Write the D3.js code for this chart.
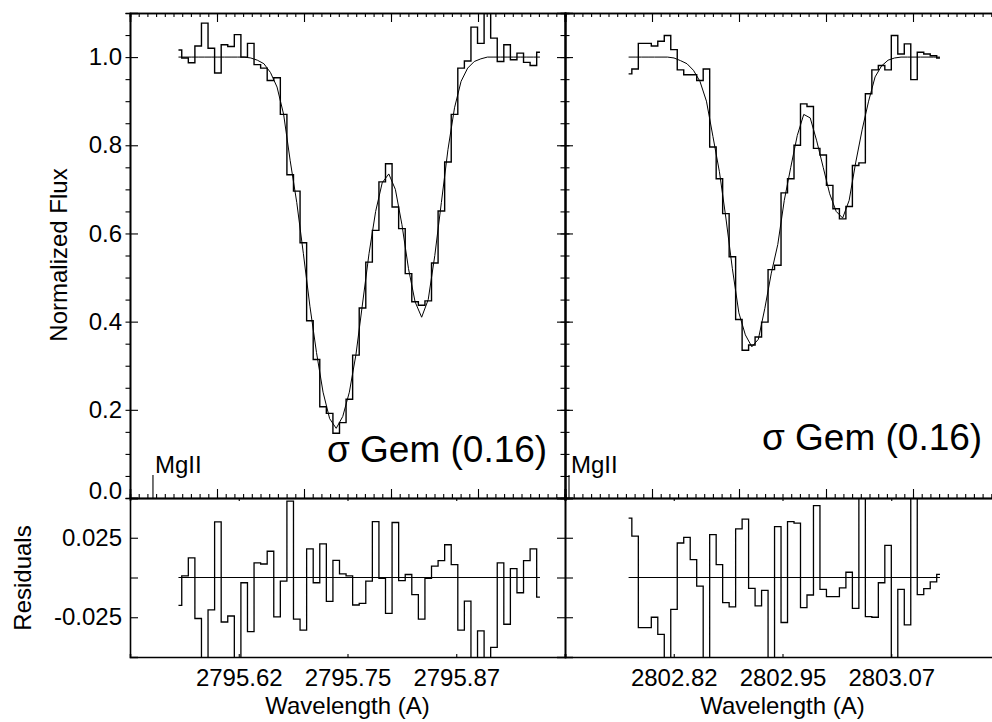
<!DOCTYPE html>
<html>
<head>
<meta charset="utf-8">
<script src="https://cdn.jsdelivr.net/npm/d3@7"></script>
<style>
  body { margin: 0; background: #fff; }
  text { font-family: "Liberation Sans", Arial, Helvetica, sans-serif; fill: #000; }
</style>
</head>
<body>
<svg id="chart" width="992" height="722"></svg>
<script>
// Mg II 2796 line: wavelength grid (bin centre of first pixel, pixel width)
const leftStart = 2795.5557;
const leftStep = 0.007555;
const leftFlux = [1.016, 0.998, 0.987, 1.025, 1.077, 1.02, 0.964, 1.028, 1.024, 1.051,
  1.0, 1.031, 0.983, 0.975, 0.947, 0.953, 0.87, 0.733, 0.696, 0.579,
  0.402, 0.314, 0.207, 0.192, 0.147, 0.171, 0.224, 0.324, 0.431, 0.535,
  0.607, 0.717, 0.758, 0.66, 0.611, 0.509, 0.445, 0.437, 0.447, 0.533,
  0.651, 0.762, 0.87, 0.975, 0.991, 1.068, 1.031, 1.13, 1.043, 0.99,
  1.028, 0.994, 1.009, 0.988, 0.981, 1.011];
const leftModel = [1.0, 1.0, 1.0, 1.0, 1.0, 1.0, 1.0, 1.0, 1.0, 1.0,
  1.0, 0.998, 0.993, 0.985, 0.965, 0.932, 0.87, 0.765, 0.67, 0.555,
  0.435, 0.33, 0.24, 0.18, 0.158, 0.185, 0.24, 0.325, 0.44, 0.555,
  0.65, 0.715, 0.735, 0.70, 0.62, 0.52, 0.445, 0.41, 0.45, 0.55,
  0.67, 0.79, 0.885, 0.945, 0.975, 0.99, 0.996, 1.0, 1.0, 1.0,
  1.0, 1.0, 1.0, 1.0, 1.0, 1.0];
const leftResid = [-0.0175, 0.001, 0.0123, -0.0258, -0.06, -0.0204, 0.035, -0.028, -0.0242, -0.06,
  -0.0033, -0.034, 0.0092, 0.0085, 0.0165, -0.0248, -0.0023, 0.048, -0.0262, -0.0331,
  0.018, -0.0033, 0.0211, -0.015, 0.0108, 0.0023, 0.001, -0.0173, -0.0163, -0.0023,
  0.0352, -0.0006, -0.0225, 0.0346, -0.002, 0.0019, -0.0108, -0.0262, -0.0006, 0.0071,
  0.0106, 0.0206, 0.0081, -0.0331, -0.0148, -0.06, -0.0336, -0.06, -0.044, 0.0092,
  -0.0294, 0.0056, -0.0096, 0.0106, 0.018, -0.0123];

// Mg II 2803 line
const rightStart = 2802.7731;
const rightStep = 0.007456;
const rightFlux = [0.962, 0.973, 1.031, 1.031, 1.025, 1.036, 1.049, 1.017, 0.971, 0.96,
  0.96, 0.947, 0.973, 0.796, 0.724, 0.645, 0.547, 0.405, 0.335, 0.347,
  0.365, 0.399, 0.518, 0.528, 0.692, 0.724, 0.8, 0.894, 0.888, 0.793,
  0.778, 0.709, 0.656, 0.633, 0.661, 0.754, 0.76, 0.917, 0.971, 0.981,
  0.971, 1.049, 1.007, 1.03, 0.949, 1.011, 1.007, 1.003, 0.998];
const rightModel = [1.0, 1.0, 1.0, 1.0, 1.0, 1.0, 1.0, 0.998, 0.992, 0.985,
  0.97, 0.945, 0.9, 0.82, 0.74, 0.635, 0.52, 0.42, 0.37, 0.343,
  0.36, 0.43, 0.51, 0.575, 0.675, 0.75, 0.822, 0.87, 0.862, 0.81,
  0.75, 0.69, 0.65, 0.635, 0.675, 0.76, 0.835, 0.9, 0.955, 0.98,
  0.993, 0.998, 1.0, 1.0, 1.0, 1.0, 1.0, 1.0, 1.0];
const rightResid = [0.0373, 0.026, -0.0315, -0.0315, -0.025, -0.0358, -0.055, -0.02, 0.0217, 0.0252,
  0.0113, -0.0054, -0.06, 0.027, 0.0081, -0.0158, -0.0185, 0.0306, 0.0367, -0.0069,
  -0.0179, -0.0081, -0.06, 0.032, -0.0283, 0.0352, 0.0342, -0.019, -0.011, 0.0452,
  -0.0075, -0.012, -0.012, -0.0065, 0.0033, -0.0194, 0.06, -0.0246, -0.025, -0.0033,
  0.0202, -0.06, -0.0075, -0.0298, 0.06, -0.0108, -0.007, -0.0027, 0.002];

// Ion marker and annotation
const ionLabel = "MgII";
const ionMarks = [2795.5264, 2802.7046];
const starLabel = "\u03c3 Gem (0.16)";
const starPos = [[2795.7264, 0.081], [2802.9264, 0.108]];

// Axis ranges and tick labels
const leftRange = [2795.5, 2796.0];
const rightRange = [2802.7, 2803.2];
const fluxTicks = [0, 0.2, 0.4, 0.6, 0.8, 1.0];
const fluxTickLabels = ["0.0", "0.2", "0.4", "0.6", "0.8", "1.0"];
const residTicks = [-0.025, 0, 0.025];
const residTickLabels = ["-0.025", "", "0.025"];
const leftWaveTicks = [2795.625, 2795.75, 2795.875];
const leftWaveLabels = ["2795.62", "2795.75", "2795.87"];
const rightWaveTicks = [2802.825, 2802.95, 2803.075];
const rightWaveLabels = ["2802.82", "2802.95", "2803.07"];

const svg = d3.select("#chart");
const FONT = 24;

const yTop = 13, yMid = 498, yBottom = 657;
const xL = d3.scaleLinear().domain(leftRange).range([130, 565]);
const xR = d3.scaleLinear().domain(rightRange).range([565, 1000]);
const yF = d3.scaleLinear().domain([0, 1.1]).range([yMid, yTop]);
const yRes = d3.scaleLinear().domain([-0.05, 0.05]).range([yBottom, yMid]);

const toSeries = (start, step, vals) => vals.map((v, i) => ({ w: start + i * step, v }));

function styleAxis(g, width) {
  g.select(".domain").attr("stroke", "#000").attr("stroke-width", width || 1.6);
  g.selectAll(".tick line").attr("stroke", "#000").attr("stroke-width", 1.1);
  g.selectAll(".tick text").attr("font-size", FONT)
    .attr("font-family", '"Liberation Sans", Arial, Helvetica, sans-serif').attr("fill", "#000");
  g.attr("font-family", null).attr("font-size", null);
}

function gridValues(a, b, s) {
  const out = [];
  const n = Math.round((b - a) / s);
  for (let i = 0; i <= n; i++) out.push(+(a + i * s).toFixed(4));
  return out;
}

function drawPanel(opts) {
  const { x, start, step, flux, model, resid, id, leftSide, mark, star } = opts;
  const [x0, x1] = x.range();

  const defs = svg.append("defs");
  defs.append("clipPath").attr("id", "clipF" + id)
    .append("rect").attr("x", x0).attr("y", yTop).attr("width", x1 - x0).attr("height", yMid - yTop);
  defs.append("clipPath").attr("id", "clipR" + id)
    .append("rect").attr("x", x0).attr("y", yMid).attr("width", x1 - x0).attr("height", yBottom - yMid);

  // ---- flux panel ----
  const majW = gridValues(x.domain()[0], x.domain()[1], 0.1);
  const minW = gridValues(x.domain()[0], x.domain()[1], 0.01);

  const gTopMin = svg.append("g").attr("transform", `translate(0,${yTop})`)
    .call(d3.axisTop(x).tickValues(minW).tickSize(-4).tickFormat(""));
  styleAxis(gTopMin);
  const gTopMaj = svg.append("g").attr("transform", `translate(0,${yTop})`)
    .call(d3.axisTop(x).tickValues(majW).tickSize(-9).tickFormat(""));
  styleAxis(gTopMaj);
  const gBotMin = svg.append("g").attr("transform", `translate(0,${yMid})`)
    .call(d3.axisBottom(x).tickValues(minW).tickSize(-4).tickFormat(""));
  styleAxis(gBotMin);
  const gBotMaj = svg.append("g").attr("transform", `translate(0,${yMid})`)
    .call(d3.axisBottom(x).tickValues(majW).tickSize(-9).tickFormat(""));
  styleAxis(gBotMaj);

  const fluxMinor = gridValues(0, 1.1, 0.05);
  [[d3.axisRight, x0], [d3.axisLeft, x1]].forEach(([mk, px]) => {
    const gm = svg.append("g").attr("transform", `translate(${px},0)`)
      .call(mk(yF).tickValues(fluxMinor).tickSize(-4.5).tickFormat(""));
    styleAxis(gm);
  });
  // labelled axis on the outer left, plain on the inner sides
  const gLeftMaj = svg.append("g").attr("transform", `translate(${x0},0)`)
    .call(d3.axisLeft(yF).tickValues(fluxTicks).tickSize(-8).tickPadding(8)
      .tickFormat((d, i) => leftSide ? fluxTickLabels[i] : ""));
  styleAxis(gLeftMaj);
  gLeftMaj.selectAll(".tick text").filter(d => d === 0).attr("dy", "0.0em");
  const gRightMaj = svg.append("g").attr("transform", `translate(${x1},0)`)
    .call(d3.axisRight(yF).tickValues(fluxTicks).tickSize(-8).tickFormat(""));
  styleAxis(gRightMaj);

  const stepLine = (yScale) => d3.line().x(d => x(d.w)).y(d => yScale(d.v)).curve(d3.curveStep);
  const smoothLine = (yScale) => d3.line().x(d => x(d.w)).y(d => yScale(d.v));

  const gF = svg.append("g").attr("clip-path", `url(#clipF${id})`);
  gF.append("path").datum(toSeries(start, step, flux))
    .attr("d", stepLine(yF)).attr("fill", "none").attr("stroke", "#000").attr("stroke-width", 1.4);
  gF.append("path").datum(toSeries(start, step, model))
    .attr("d", smoothLine(yF)).attr("fill", "none").attr("stroke", "#000").attr("stroke-width", 1.0);

  // ion marker
  gF.append("line").attr("x1", x(mark)).attr("x2", x(mark))
    .attr("y1", yF(0)).attr("y2", yF(0.052)).attr("stroke", "#000").attr("stroke-width", 1.1);
  svg.append("text").attr("x", x(mark) + 2).attr("y", yF(0.056))
    .attr("font-size", FONT).text(ionLabel);

  svg.append("text").attr("x", x(star[0])).attr("y", yF(star[1]))
    .attr("font-size", 37).text(starLabel);

  // ---- residual panel ----
  const gRT = svg.append("g").attr("transform", `translate(0,${yMid})`)
    .call(d3.axisTop(x).tickValues(opts.waveTicks).tickSize(-3).tickFormat(""));
  styleAxis(gRT);
  const gRB = svg.append("g").attr("transform", `translate(0,${yBottom})`)
    .call(d3.axisBottom(x).tickValues(opts.waveTicks).tickSize(-3).tickPadding(12)
      .tickFormat((d, i) => opts.waveLabels[i]));
  styleAxis(gRB);

  const gRL = svg.append("g").attr("transform", `translate(${x0},0)`)
    .call(d3.axisLeft(yRes).tickValues(residTicks).tickSize(-8).tickPadding(8)
      .tickFormat((d, i) => leftSide ? residTickLabels[i] : ""));
  styleAxis(gRL);
  const gRR = svg.append("g").attr("transform", `translate(${x1},0)`)
    .call(d3.axisRight(yRes).tickValues(residTicks).tickSize(-8).tickFormat(""));
  styleAxis(gRR);

  const series = toSeries(start, step, resid);
  const gR = svg.append("g").attr("clip-path", `url(#clipR${id})`);
  gR.append("line")
    .attr("x1", x(series[0].w)).attr("x2", x(series[series.length - 1].w))
    .attr("y1", yRes(0)).attr("y2", yRes(0)).attr("stroke", "#000").attr("stroke-width", 1.1);
  gR.append("path").datum(series)
    .attr("d", stepLine(yRes)).attr("fill", "none").attr("stroke", "#000").attr("stroke-width", 1.3);

  svg.append("text").attr("x", (x0 + x1) / 2).attr("y", 714).attr("text-anchor", "middle")
    .attr("font-size", FONT).text("Wavelength (A)");
}

drawPanel({ x: xL, start: leftStart, step: leftStep, flux: leftFlux, model: leftModel,
  resid: leftResid, id: "L", leftSide: true, mark: ionMarks[0], star: starPos[0],
  waveTicks: leftWaveTicks, waveLabels: leftWaveLabels });
drawPanel({ x: xR, start: rightStart, step: rightStep, flux: rightFlux, model: rightModel,
  resid: rightResid, id: "R", leftSide: false, mark: ionMarks[1], star: starPos[1],
  waveTicks: rightWaveTicks, waveLabels: rightWaveLabels });

// Axis titles
svg.append("text").attr("transform", "translate(67,255) rotate(-90)")
  .attr("text-anchor", "middle").attr("font-size", FONT).text("Normalized Flux");
svg.append("text").attr("transform", "translate(31,578) rotate(-90)")
  .attr("text-anchor", "middle").attr("font-size", FONT).text("Residuals");
</script>
</body>
</html>
